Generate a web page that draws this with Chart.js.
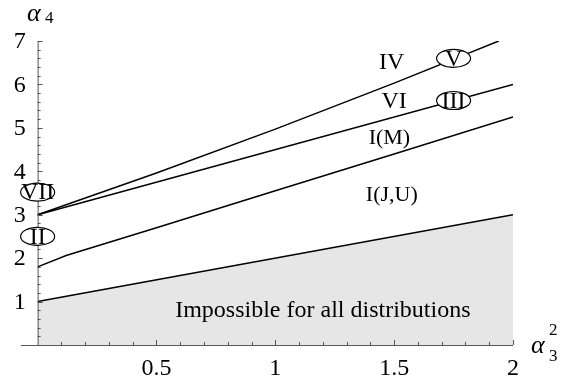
<!DOCTYPE html>
<html>
<head>
<meta charset="utf-8">
<script src="https://cdn.jsdelivr.net/npm/chart.js@4/dist/chart.umd.min.js"></script>
<style>
  html, body { margin: 0; padding: 0; background: #fff; }
  #wrap { width: 563px; height: 381px; }
</style>
</head>
<body>
<div id="wrap"><canvas id="pearsonChart"></canvas></div>
<script>
// Data (alpha3^2 on x, alpha4 on y)
const boundX = [0, 2];
const boundY = [1, 3];
const gammaX = [0, 2];            // type III line
const gammaY = [3, 6];
const typeVX = [0, 0.5, 1, 1.5, 1.94];
const typeVY = [3, 3.96, 4.97, 6.03, 7];
const betaX = [0, 0.12, 0.5, 1, 1.5, 2];   // I(M) / I(J,U) border
const betaY = [1.8, 2.06, 2.7, 3.55, 4.4, 5.25];

const xTicks = [0.5, 1, 1.5, 2];
const yTicks = [1, 2, 3, 4, 5, 6, 7];

// Text labels: [text, x, y]
const regionLabels = [
  ['IV', 1.49, 6.5],
  ['VI', 1.5, 5.6],
  ['I(M)', 1.48, 4.77],
  ['I(J,U)', 1.49, 3.45],
  ['Impossible for all distributions', 1.2, 0.8]
];
// Circled labels: [text, x, y]
const circledLabels = [
  ['V', 1.75, 6.6],
  ['III', 1.75, 5.63],
  ['VII', 0, 3.52],
  ['II', 0, 2.5]
];

const serif = '"Liberation Serif", "Times New Roman", serif';

function pts(xs, ys) {
  return xs.map((x, i) => ({ x: x, y: ys[i] }));
}

// Axes, ticks and labels drawn through the chart's scales
const decorations = {
  id: 'decorations',
  afterDatasetsDraw(chart) {
    const ctx = chart.ctx;
    const xs = chart.scales.x;
    const ys = chart.scales.y;
    const x0 = xs.getPixelForValue(0);
    const y0 = ys.getPixelForValue(0);

    ctx.save();
    ctx.strokeStyle = '#555';
    ctx.lineWidth = 1;

    // axis lines
    ctx.beginPath();
    ctx.moveTo(xs.left, y0 + 0.5);
    ctx.lineTo(xs.getPixelForValue(2), y0 + 0.5);
    ctx.moveTo(x0 + 0.5, y0);
    ctx.lineTo(x0 + 0.5, ys.getPixelForValue(7));
    ctx.stroke();

    // inner ticks on x axis
    ctx.beginPath();
    for (let i = 1; i <= 20; i++) {
      const px = Math.round(xs.getPixelForValue(i / 10)) + 0.5;
      const len = i % 5 === 0 ? 5 : 3;
      ctx.moveTo(px, y0);
      ctx.lineTo(px, y0 - len);
    }
    // inner ticks on y axis
    for (let i = 1; i <= 35; i++) {
      const py = Math.round(ys.getPixelForValue(i / 5)) + 0.5;
      const len = i % 5 === 0 ? 5 : 3;
      ctx.moveTo(x0, py);
      ctx.lineTo(x0 + len, py);
    }
    ctx.stroke();

    // tick labels
    ctx.fillStyle = '#000';
    ctx.font = '24px ' + serif;
    ctx.textBaseline = 'middle';
    ctx.textAlign = 'center';
    xTicks.forEach(v => ctx.fillText(String(v), xs.getPixelForValue(v), y0 + 24));
    ctx.textAlign = 'right';
    yTicks.forEach(v => ctx.fillText(String(v), x0 - 12, ys.getPixelForValue(v) + 1));

    // axis titles
    ctx.textAlign = 'left';
    ctx.font = 'italic 26px ' + serif;
    ctx.fillText('\u03b1', 27, 14);
    ctx.font = '17px ' + serif;
    ctx.fillText('4', 45, 19);
    ctx.font = 'italic 26px ' + serif;
    ctx.fillText('\u03b1', 531, 346);
    ctx.font = '17px ' + serif;
    ctx.fillText('2', 549, 331);
    ctx.fillText('3', 549, 357);

    // region labels
    ctx.textAlign = 'center';
    regionLabels.forEach(([t, x, y]) => {
      ctx.font = (t.startsWith('I(') ? '22px ' : '24px ') + serif;
      ctx.fillText(t, xs.getPixelForValue(x), ys.getPixelForValue(y));
    });

    // circled labels
    circledLabels.forEach(([t, x, y]) => {
      const cx = xs.getPixelForValue(x);
      const cy = ys.getPixelForValue(y);
      ctx.beginPath();
      ctx.ellipse(cx, cy, 17, 9, 0, 0, Math.PI * 2);
      ctx.fillStyle = '#fff';
      ctx.fill();
      ctx.strokeStyle = '#000';
      ctx.lineWidth = 1.2;
      ctx.stroke();
      ctx.fillStyle = '#000';
      ctx.font = '24px ' + serif;
      ctx.fillText(t, cx, cy + 1);
    });
    ctx.restore();
  }
};

const lineStyle = {
  borderColor: '#000',
  borderWidth: 1.5,
  pointRadius: 0,
  tension: 0,
  fill: false
};

new Chart(document.getElementById('pearsonChart'), {
  type: 'line',
  data: {
    datasets: [
      Object.assign({}, lineStyle, {
        label: 'Impossible region',
        data: pts(boundX, boundY),
        fill: 'origin',
        backgroundColor: '#e6e6e6'
      }),
      Object.assign({}, lineStyle, { label: 'III', data: pts(gammaX, gammaY) }),
      Object.assign({}, lineStyle, { label: 'V', data: pts(typeVX, typeVY) }),
      Object.assign({}, lineStyle, { label: 'I border', data: pts(betaX, betaY) })
    ]
  },
  options: {
    responsive: true,
    maintainAspectRatio: false,
    animation: false,
    layout: { padding: { left: 21, right: 50, top: 41, bottom: 36 } },
    plugins: {
      legend: { display: false },
      tooltip: { enabled: false }
    },
    scales: {
      x: { type: 'linear', min: -0.07, max: 2, display: false },
      y: { type: 'linear', min: 0, max: 7, display: false }
    }
  },
  plugins: [decorations]
});
</script>
</body>
</html>
